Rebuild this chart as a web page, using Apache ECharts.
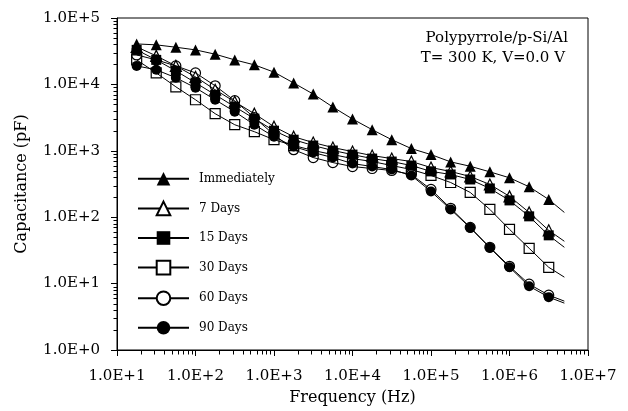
<!DOCTYPE html>
<html>
<head>
<meta charset="utf-8">
<script src="https://cdn.jsdelivr.net/npm/echarts@6/dist/echarts.min.js"></script>
<style>
  html, body { margin: 0; padding: 0; background: #fff; }
  #chart { width: 628px; height: 411px; }
</style>
</head>
<body>
<div id="chart"></div>
<script>
// frequency (Hz) of each measured point; last one is the curve end (no marker)
const frequency = [17.8, 31.6, 56.2, 100, 178, 316, 562, 1000, 1780, 3160, 5620, 1e4,
  1.78e4, 3.16e4, 5.62e4, 1e5, 1.78e5, 3.16e5, 5.62e5, 1e6, 1.78e6, 3.16e6, 5e6];

// capacitance (pF)
const immediately = [40700, 39400, 36300, 33100, 28500, 23400, 19700, 15300, 10500, 7150, 4560, 3010,
  2080, 1470, 1080, 877, 681, 585, 482, 392, 287, 185, 118];
const days7 = [36700, 26900, 19000, 13000, 8300, 5480, 3620, 2310, 1630, 1330, 1120, 973,
  847, 764, 689, 560, 488, 410, 311, 206, 118, 63.4, 43.4];
const days15 = [33100, 23400, 16000, 10600, 6980, 4610, 3050, 2010, 1470, 1200, 1010, 877,
  764, 689, 600, 490, 440, 370, 271, 179, 103, 53.3, 35.2];
const days30 = [23400, 14900, 9200, 5870, 3620, 2470, 1940, 1470, 1200, 1010, 877, 764,
  689, 600, 522, 425, 333, 236, 131, 65.6, 34.0, 17.6, 12.5];
const days60 = [27800, 23400, 19000, 14900, 9530, 5680, 3160, 1750, 1040, 791, 665, 579,
  541, 505, 440, 262, 136, 70.3, 35.2, 18.2, 9.8, 6.70, 5.44];
const days90 = [19000, 16600, 12600, 8890, 5870, 3880, 2470, 1630, 1160, 940, 791, 643,
  579, 522, 425, 244, 131, 69.1, 34.6, 17.6, 9.14, 6.25, 5.08];

const xTicks = [10, 1e2, 1e3, 1e4, 1e5, 1e6, 1e7];
const yTicks = [1, 10, 1e2, 1e3, 1e4, 1e5];

const FONT = '"DejaVu Serif", "Liberation Serif", serif';

const chart = echarts.init(document.getElementById('chart'));

// minor ticks at 2..9 of every decade
const minorX = [];
for (let i = 0; i < xTicks.length - 1; i++) {
  for (let m = 2; m < 10; m++) minorX.push([m * xTicks[i], 1]);
}
const minorY = [];
for (let i = 0; i < yTicks.length - 1; i++) {
  for (let m = 2; m < 10; m++) minorY.push([10, m * yTicks[i]]);
}

function toPoints(vals) {
  return frequency.map((f, i) =>
    i === frequency.length - 1 ? { value: [f, vals[i]], symbol: 'none' } : [f, vals[i]]);
}

const hollow = { color: 'rgba(255,255,255,0)', borderColor: '#000', borderWidth: 1.2 };
const filled = { color: '#000', borderColor: '#000', borderWidth: 0 };

function lineSeries(name, vals, symbol, size, style) {
  return {
    name: name,
    type: 'line',
    data: toPoints(vals),
    symbol: symbol,
    symbolSize: size,
    showSymbol: true,
    itemStyle: style,
    lineStyle: { color: '#000', width: 1 },
    emphasis: { disabled: true },
    z: 3
  };
}

function tickRenderer(isX) {
  return function (params, api) {
    const p = api.coord([api.value(0), api.value(1)]);
    const x = Math.round(p[0]) + 0.5;
    const y = Math.round(p[1]) + 0.5;
    return {
      type: 'line',
      shape: isX ? { x1: x, y1: y, x2: x, y2: y + 4 } : { x1: x - 4, y1: y, x2: x, y2: y },
      style: { stroke: '#000', lineWidth: 1 }
    };
  };
}

const option = {
  animation: false,
  backgroundColor: '#fff',
  grid: {
    left: 117, right: 40, top: 18, bottom: 60,
    show: true, borderColor: '#000', borderWidth: 1
  },
  xAxis: {
    type: 'log', logBase: 10, min: 10, max: 1e7, splitNumber: 6,
    name: 'Frequency (Hz)', nameLocation: 'middle', nameGap: 40,
    nameTextStyle: { fontFamily: FONT, fontSize: 16, color: '#000' },
    axisLine: { lineStyle: { color: '#000', width: 1 } },
    axisTick: { length: 6, lineStyle: { color: '#000' } },
    axisLabel: {
      margin: 19, fontFamily: FONT, fontSize: 15, color: '#000',
      formatter: v => v.toExponential(1).toUpperCase()
    },
    splitLine: { show: false }
  },
  yAxis: {
    type: 'log', logBase: 10, min: 1, max: 1e5, splitNumber: 5,
    name: 'Capacitance (pF)', nameLocation: 'middle', nameGap: 87,
    nameTextStyle: { fontFamily: FONT, fontSize: 16, color: '#000' },
    axisLine: { lineStyle: { color: '#000', width: 1 } },
    axisTick: { length: 6, lineStyle: { color: '#000' } },
    axisLabel: {
      margin: 17, fontFamily: FONT, fontSize: 15, color: '#000',
      formatter: v => v.toExponential(1).toUpperCase()
    },
    splitLine: { show: false }
  },
  legend: {
    orient: 'vertical', left: 132, top: 167,
    itemWidth: 51, itemHeight: 17, itemGap: 15,
    textStyle: { fontFamily: FONT, fontSize: 12, color: '#000', padding: [0, 0, 0, 5] },
    data: [
      { name: 'Immediately' },
      { name: '7 Days', itemStyle: { color: '#fff' } },
      { name: '15 Days' },
      { name: '30 Days', itemStyle: { color: '#fff' } },
      { name: '60 Days', itemStyle: { color: '#fff' } },
      { name: '90 Days' }
    ],
    selectedMode: false
  },
  graphic: [
    {
      type: 'text', x: 568, y: 38,
      style: { text: 'Polypyrrole/p-Si/Al', align: 'right', verticalAlign: 'middle',
        fontFamily: FONT, fontSize: 15, fill: '#000' }
    },
    {
      type: 'text', x: 565, y: 58,
      style: { text: 'T= 300 K, V=0.0 V', align: 'right', verticalAlign: 'middle',
        fontFamily: FONT, fontSize: 15, fill: '#000' }
    }
  ],
  series: [
    lineSeries('90 Days', days90, 'circle', 10, filled),
    lineSeries('60 Days', days60, 'circle', 10, hollow),
    lineSeries('30 Days', days30, 'rect', 10, hollow),
    lineSeries('15 Days', days15, 'rect', 10, filled),
    lineSeries('7 Days', days7, 'triangle', 11, hollow),
    lineSeries('Immediately', immediately, 'triangle', 11, filled),
    {
      type: 'custom', silent: true, data: minorX,
      renderItem: tickRenderer(true), z: 4
    },
    {
      type: 'custom', silent: true, data: minorY,
      renderItem: tickRenderer(false), z: 4
    }
  ]
};

chart.setOption(option);
</script>
</body>
</html>
